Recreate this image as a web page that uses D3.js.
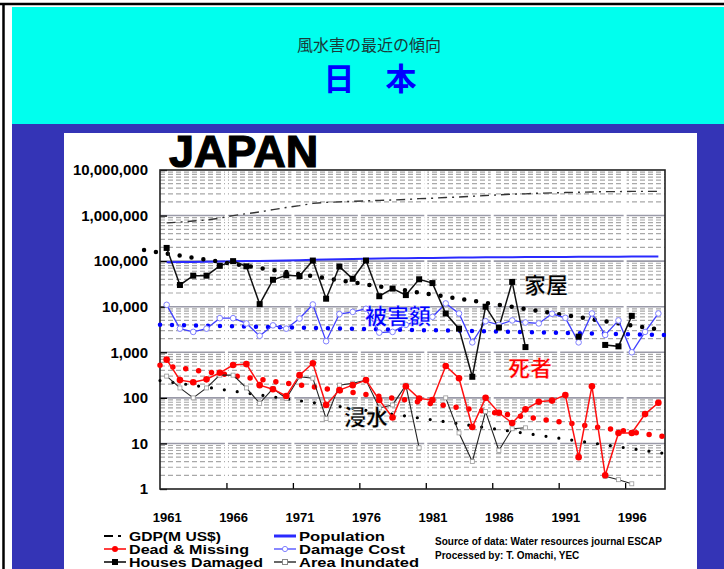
<!DOCTYPE html>
<html><head><meta charset="utf-8">
<script src="https://cdn.jsdelivr.net/npm/d3@7/dist/d3.min.js"></script>
<style>body{margin:0;background:#fff}svg{display:block}</style>
</head><body><div id="c"></div>
<script>
// ---------------- data ----------------
const years = d3.range(1961, 1999);
const xTickLabels = ["1961","1966","1971","1976","1981","1986","1991","1996"];
const yTickValues = [1,10,100,1000,10000,100000,1000000,10000000];
const gdp = [690000,720000,760000,800000,880000,1000000,1100000,1200000,1350000,1500000,1650000,1850000,1950000,2000000,2050000,2100000,2150000,2200000,2250000,2350000,2400000,2500000,2550000,2650000,2750000,2850000,2950000,3000000,3100000,3150000,3200000,3250000,3300000,3350000,3350000,3400000,3400000,3400000];
const population = [94300,95200,96200,97200,98300,99000,100200,101300,102500,103700,105000,107200,108700,110200,111900,113100,114200,115200,116100,117100,117900,118700,119500,120300,121000,121700,122300,122700,123200,123600,124000,124400,124800,125000,125600,125900,126200,126500];
const houses = [195000,30000,48000,48000,79000,100000,77000,11400,39000,49000,47000,103000,15000,76000,41000,103000,17000,25000,18000,40000,33000,7100,3300,290,10000,3500,35000,1300,null,null,null,2200,null,1450,1350,6300,null,null];
const damageCost = [11000,3300,2800,3300,5600,5600,4300,2300,3900,3300,5500,11200,1750,6900,7700,9000,2700,2800,4000,5000,6000,11800,7100,1650,4800,4000,5000,4500,4300,7000,5700,1650,7100,2400,5000,1000,2800,7100];
const dead = [690,245,220,255,355,525,550,190,155,110,315,575,70,148,190,245,90,37,180,97,90,500,270,23,100,47,28,56,82,87,115,5,180,2,17,17,44,78];
const area = [300,165,100,165,315,315,165,76,160,97,290,270,35,190,210,245,60,70,190,8,null,100,17,4,50,7,21,22,null,null,null,null,null,1.9,1.6,1.3,null,null];
// trend lines: [year, value] at both ends
const housesTrend = [[1959.3,175000],[1998.5,3000]];
const damageTrend = [[1960.5,4000],[1998.5,2400]];
const deadTrend = [[1960.5,520],[1998.5,14]];
const areaTrend = [[1960.5,240],[1998.5,6]];
const legendItems = [
  {key:"gdp", label:"GDP(M US$)", col:0, row:0, w:92},
  {key:"dead", label:"Dead & Missing", col:0, row:1, w:120},
  {key:"houses", label:"Houses Damaged", col:0, row:2, w:134},
  {key:"pop", label:"Population", col:1, row:0, w:86},
  {key:"damage", label:"Damage Cost", col:1, row:1, w:106},
  {key:"area", label:"Area Inundated", col:1, row:2, w:120}
];

// ---------------- layout ----------------
const W = 724, H = 569;
const P = {l:160, r:665, t:170, b:489};
const svg = d3.select("#c").append("svg").attr("width",W).attr("height",H);

svg.append("rect").attr("width",W).attr("height",H).attr("fill","#fff");
svg.append("rect").attr("x",12).attr("y",7).attr("width",W-12).attr("height",117).attr("fill","#00ffee");
svg.append("rect").attr("x",12).attr("y",124).attr("width",W-12).attr("height",H-124).attr("fill","#3434b6");
svg.append("rect").attr("x",64).attr("y",133).attr("width",633).attr("height",H-133).attr("fill","#fff");
svg.append("line").attr("x1",0).attr("x2",W).attr("y1",4).attr("y2",4).attr("stroke","#000").attr("stroke-width",2.5);
svg.append("line").attr("x1",3.5).attr("x2",3.5).attr("y1",3).attr("y2",H).attr("stroke","#000").attr("stroke-width",2.5);

svg.append("text").attr("x",369).attr("y",51).attr("text-anchor","middle")
  .attr("font-family","'Noto Sans CJK JP'").attr("font-size",16).attr("fill","#1a3a3a").text("風水害の最近の傾向");
svg.append("text").attr("x",370).attr("y",90).attr("text-anchor","middle")
  .attr("font-family","'Noto Sans CJK JP'").attr("font-weight","bold").attr("font-size",31).attr("fill","#0000ff").text("日　本");

svg.append("text").attr("x",169).attr("y",167).attr("font-family","'Liberation Sans', Arial")
  .attr("font-weight","bold").attr("font-size",45).attr("fill","#000").attr("stroke","#000").attr("stroke-width",1.2).text("JAPAN");

// scales
const x = d3.scaleLinear().domain([1960.5, 1998.5]).range([P.l, P.r]);
const y = d3.scaleLog().domain([1, 1e7]).range([P.b, P.t]);

// grid
const g = svg.append("g");
const minor = [];
for (let d = 0; d < 7; d++) for (let m = 2; m <= 9; m++) minor.push(m * Math.pow(10, d));
g.selectAll(".mn").data(minor).join("line")
  .attr("x1",P.l).attr("x2",P.r).attr("y1",d=>y(d)).attr("y2",d=>y(d))
  .attr("stroke","#a8a8a8").attr("stroke-width",1.2).attr("stroke-dasharray","5,3");
g.selectAll(".mj").data(yTickValues.slice(1,7)).join("line")
  .attr("x1",P.l).attr("x2",P.r).attr("y1",d=>y(d)).attr("y2",d=>y(d))
  .attr("stroke","#9a9aa8").attr("stroke-width",1.6);
const bounds = d3.range(1965.5, 1998, 5);
g.selectAll(".gap").data(bounds).join("line")
  .attr("x1",d=>x(d)).attr("x2",d=>x(d)).attr("y1",P.t+1).attr("y2",P.b-1)
  .attr("stroke","#fff").attr("stroke-width",3);

// axes
const yAxis = d3.axisLeft(y).tickValues(yTickValues).tickSize(-7).tickFormat(d3.format(",d"));
const ya = svg.append("g").attr("transform",`translate(${P.l},0)`).call(yAxis);
ya.select(".domain").remove();
ya.selectAll("line").attr("stroke","#000").attr("stroke-width",1.3);
ya.selectAll("text").attr("x",-12).attr("font-family","'Liberation Sans', Arial").attr("font-weight","bold")
  .attr("font-size",15).attr("fill","#000");

const xTickAxis = d3.axisBottom(x).tickValues(bounds).tickSize(-6).tickFormat("");
const xa = svg.append("g").attr("transform",`translate(0,${P.b})`).call(xTickAxis);
xa.select(".domain").remove();
xa.selectAll("line").attr("stroke","#000").attr("stroke-width",1.3);
const xLabAxis = d3.axisBottom(x).tickValues(xTickLabels.map(Number)).tickSize(0).tickFormat(d=>String(d));
const xl = svg.append("g").attr("transform",`translate(0,${P.b})`).call(xLabAxis);
xl.select(".domain").remove();
xl.selectAll("text").attr("dy",0).attr("y",33).attr("font-family","'Liberation Sans', Arial").attr("font-weight","bold")
  .attr("font-size",13).attr("fill","#000");

svg.append("rect").attr("x",P.l).attr("y",P.t).attr("width",P.r-P.l).attr("height",P.b-P.t)
  .attr("fill","none").attr("stroke","#222").attr("stroke-width",1.6);

const line = d3.line().defined(d=>d[1]!=null).x(d=>x(d[0])).y(d=>y(d[1]));
const pairs = arr => years.map((yr,i)=>[yr, arr[i]]);

// GDP & population
svg.append("path").attr("d",line(pairs(gdp))).attr("fill","none").attr("stroke","#333")
  .attr("stroke-width",1.4).attr("stroke-dasharray","9,5,2,5");
svg.append("path").attr("d",line(pairs(population))).attr("fill","none").attr("stroke","#2a2aff").attr("stroke-width",2);

// trends
function trend(t, color, w, gap) {
  svg.append("path").attr("d",line(t)).attr("fill","none").attr("stroke",color)
    .attr("stroke-width",w).attr("stroke-linecap","round").attr("stroke-dasharray",`0,${gap}`);
}
trend(housesTrend, "#000", 4.5, 12);
trend(damageTrend, "#0000ff", 4.5, 12);
trend(deadTrend, "#ff0000", 5.5, 13);
trend(areaTrend, "#000", 3.2, 13);

// series
const cl = svg.append("g");
function series(arr, color, w) {
  cl.append("path").attr("d",line(pairs(arr))).attr("fill","none").attr("stroke",color).attr("stroke-width",w);
}
series(area, "#222", 1.1);
series(damageCost, "#4040ff", 1.3);
series(houses, "#111", 1.5);
series(dead, "#ff1010", 1.5);

const pts = arr => pairs(arr).filter(d=>d[1]!=null);
cl.selectAll(".am").data(pts(area)).join("rect")
  .attr("x",d=>x(d[0])-2).attr("y",d=>y(d[1])-2).attr("width",4).attr("height",4)
  .attr("fill","#fff").attr("stroke","#999").attr("stroke-width",0.8);
cl.selectAll(".dm").data(pts(damageCost)).join("circle")
  .attr("cx",d=>x(d[0])).attr("cy",d=>y(d[1])).attr("r",2.8)
  .attr("fill","#fff").attr("stroke","#8080ff").attr("stroke-width",1);
cl.selectAll(".hm").data(pts(houses)).join("rect")
  .attr("x",d=>x(d[0])-3).attr("y",d=>y(d[1])-3).attr("width",6).attr("height",6).attr("fill","#000");
cl.selectAll(".de").data(pts(dead)).join("circle")
  .attr("cx",d=>x(d[0])).attr("cy",d=>y(d[1])).attr("r",3.3).attr("fill","#ff0000");

// in-chart labels
const jl = (t, xx, yy, c) => svg.append("text").attr("x",xx).attr("y",yy).attr("text-anchor","middle")
  .attr("font-family","'Noto Sans CJK JP'").attr("font-weight","bold").attr("font-size",22)
  .attr("fill",c).attr("stroke","#fff").attr("stroke-width",0.4).text(t);
jl("家屋", 546, 293, "#000");
jl("被害額", 398, 324, "#0000ff");
jl("死者", 530, 376, "#ff0000");
jl("浸水", 366, 425, "#000");

// legend
const lg = svg.append("g");
const colX = [104, 274], rowY = [536, 549, 562];
legendItems.forEach(it => {
  const x0 = colX[it.col], yy = rowY[it.row], x1 = x0 + 22, xm = (x0 + x1) / 2;
  const s = lg.append("g");
  if (it.key === "gdp") {
    s.append("line").attr("x1",x0).attr("x2",x0+9).attr("y1",yy).attr("y2",yy).attr("stroke","#000").attr("stroke-width",2);
    s.append("line").attr("x1",x0+14).attr("x2",x0+17).attr("y1",yy).attr("y2",yy).attr("stroke","#000").attr("stroke-width",2);
  } else if (it.key === "pop") {
    s.append("line").attr("x1",x0).attr("x2",x1).attr("y1",yy).attr("y2",yy).attr("stroke","#2a2aff").attr("stroke-width",3);
  } else if (it.key === "dead") {
    s.append("line").attr("x1",x0).attr("x2",x1).attr("y1",yy).attr("y2",yy).attr("stroke","#ff0000").attr("stroke-width",1.5);
    s.append("circle").attr("cx",xm).attr("cy",yy).attr("r",3).attr("fill","#ff0000");
  } else if (it.key === "houses") {
    s.append("line").attr("x1",x0).attr("x2",x1).attr("y1",yy).attr("y2",yy).attr("stroke","#000").attr("stroke-width",1.5);
    s.append("rect").attr("x",xm-3).attr("y",yy-3).attr("width",6).attr("height",6).attr("fill","#000");
  } else if (it.key === "damage") {
    s.append("line").attr("x1",x0).attr("x2",x1).attr("y1",yy).attr("y2",yy).attr("stroke","#6060ff").attr("stroke-width",1.5);
    s.append("circle").attr("cx",xm).attr("cy",yy).attr("r",2.6).attr("fill","#fff").attr("stroke","#8080ff");
  } else if (it.key === "area") {
    s.append("line").attr("x1",x0).attr("x2",x1).attr("y1",yy).attr("y2",yy).attr("stroke","#000").attr("stroke-width",1.2);
    s.append("rect").attr("x",xm-2.5).attr("y",yy-2.5).attr("width",5).attr("height",5).attr("fill","#fff").attr("stroke","#888");
  }
  lg.append("text").attr("x",x1+3).attr("y",yy+4.5).attr("font-family","'Liberation Sans', Arial").attr("font-weight","bold")
    .attr("font-size",12.5).attr("textLength",it.w).attr("lengthAdjust","spacingAndGlyphs")
    .attr("fill","#000").text(it.label);
});
svg.append("text").attr("x",435).attr("y",545).attr("font-family","'Liberation Sans', Arial").attr("font-weight","bold")
  .attr("font-size",10).attr("fill","#000").text("Source of data: Water resources journal ESCAP");
svg.append("text").attr("x",435).attr("y",559).attr("font-family","'Liberation Sans', Arial").attr("font-weight","bold")
  .attr("font-size",10).attr("fill","#000").text("Processed by: T. Omachi, YEC");
</script></body></html>
